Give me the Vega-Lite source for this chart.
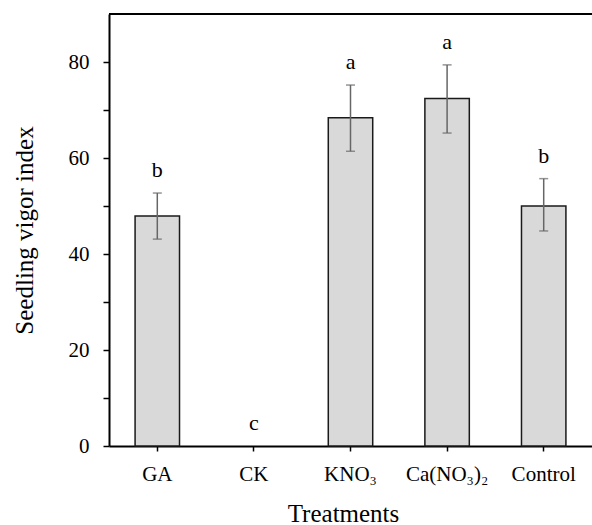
{
  "$schema": "https://vega.github.io/schema/vega-lite/v6.json",
  "autosize": "none",
  "width": 483,
  "height": 432,
  "padding": {"left": 109, "top": 14, "right": 0, "bottom": 79},
  "background": "white",
  "config": {
    "font": "Liberation Serif",
    "view": {"stroke": null},
    "axis": {
      "domainColor": "black",
      "domainWidth": 2,
      "tickColor": "black",
      "tickWidth": 1.5,
      "labelColor": "black",
      "titleColor": "black",
      "labelFont": "Liberation Serif",
      "titleFont": "Liberation Serif",
      "titleFontWeight": "normal",
      "grid": false
    }
  },
  "data": {
    "values": [
      {"treatment": "GA", "mean": 47.9, "lo": 43.1, "hi": 52.7, "letter": "b"},
      {"treatment": "CK", "mean": 0, "lo": null, "hi": null, "letter": "c"},
      {"treatment": "KNO₃", "mean": 68.4, "lo": 61.4, "hi": 75.2, "letter": "a"},
      {"treatment": "Ca(NO₃)₂", "mean": 72.4, "lo": 65.2, "hi": 79.4, "letter": "a"},
      {"treatment": "Control", "mean": 50.0, "lo": 44.8, "hi": 55.7, "letter": "b"}
    ]
  },
  "encoding": {
    "x": {
      "field": "treatment",
      "type": "nominal",
      "sort": ["GA", "CK", "KNO₃", "Ca(NO₃)₂", "Control"],
      "scale": {"paddingInner": 0.54, "paddingOuter": 0.27},
      "axis": {
        "title": "Treatments",
        "titleFontSize": 25,
        "titleX": 234,
        "titleY": 75,
        "titleBaseline": "alphabetic",
        "titleAlign": "center",
        "labelAngle": 0,
        "labelFontSize": 21,
        "tickSize": 5,
        "labelPadding": 12
      }
    },
    "y": {
      "field": "mean",
      "type": "quantitative",
      "scale": {"domain": [0, 90], "nice": false},
      "axis": {
        "title": "Seedling vigor index",
        "titleFontSize": 25,
        "titleX": -77,
        "titleBaseline": "alphabetic",
        "values": [0, 10, 20, 30, 40, 50, 60, 70, 80],
        "labelExpr": "datum.value % 20 == 0 ? datum.label : ''",
        "labelFontSize": 21,
        "labelPadding": 14,
        "tickSize": 6
      }
    }
  },
  "layer": [
    {
      "transform": [{"filter": "datum.mean > 0"}],
      "mark": {"type": "bar", "fill": "#d9d9d9", "stroke": "#1a1a1a", "strokeWidth": 1.5}
    },
    {
      "mark": {"type": "rule", "color": "black", "strokeWidth": 2},
      "encoding": {"y": {"datum": 90}, "x": null}
    },
    {
      "mark": {"type": "rule", "color": "#666666", "strokeWidth": 1.5},
      "encoding": {
        "y": {"field": "lo", "type": "quantitative"},
        "y2": {"field": "hi"}
      }
    },
    {
      "mark": {"type": "tick", "color": "#666666", "thickness": 1.5, "size": 9, "orient": "horizontal"},
      "encoding": {"y": {"field": "lo", "type": "quantitative"}}
    },
    {
      "mark": {"type": "tick", "color": "#666666", "thickness": 1.5, "size": 9, "orient": "horizontal"},
      "encoding": {"y": {"field": "hi", "type": "quantitative"}}
    },
    {
      "transform": [{"calculate": "datum.hi == null ? datum.mean : datum.hi", "as": "top"}],
      "mark": {"type": "text", "fontSize": 22, "baseline": "alphabetic", "dy": -16, "color": "black"},
      "encoding": {
        "y": {"field": "top", "type": "quantitative"},
        "text": {"field": "letter"}
      }
    }
  ]
}
